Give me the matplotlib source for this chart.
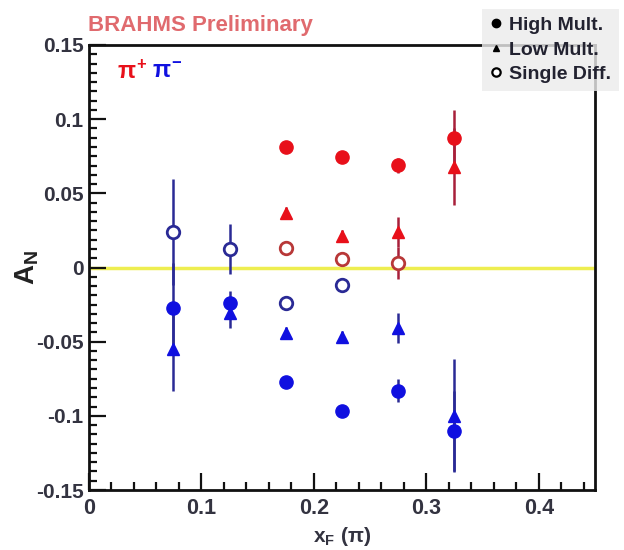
import matplotlib
matplotlib.use("Agg")
import matplotlib.pyplot as plt
from matplotlib.lines import Line2D
from matplotlib.ticker import MultipleLocator, FixedLocator

plt.rcParams['font.family'] = ['Liberation Sans', 'DejaVu Sans']
plt.rcParams['mathtext.fontset'] = 'custom'
plt.rcParams['mathtext.rm'] = 'Liberation Sans:bold'
plt.rcParams['mathtext.it'] = 'Liberation Sans:bold'
plt.rcParams['mathtext.bf'] = 'Liberation Sans:bold'

# ---- data ----
x_pos_red = [0.175, 0.225, 0.275, 0.325]
red_high = [0.081, 0.0745, 0.069, 0.087]
red_high_err = [0.004, 0.004, 0.005, 0.019]
red_low = [0.037, 0.021, 0.024, 0.068]
red_low_err = [0.004, 0.004, 0.010, 0.026]
x_red_single = [0.175, 0.225, 0.275]
red_single = [0.013, 0.006, 0.003]
red_single_err = [0.004, 0.004, 0.011]

x_pos_blue = [0.075, 0.125, 0.175, 0.225, 0.275, 0.325]
blue_high = [-0.027, -0.024, -0.077, -0.097, -0.083, -0.110]
blue_high_err = [0.030, 0.008, 0.004, 0.004, 0.008, 0.027]
blue_low = [-0.055, -0.031, -0.044, -0.047, -0.041, -0.100]
blue_low_err = [0.028, 0.010, 0.004, 0.004, 0.010, 0.038]
x_blue_single = [0.075, 0.125, 0.175, 0.225]
blue_single = [0.024, 0.0125, -0.024, -0.012]
blue_single_err = [0.036, 0.017, 0.004, 0.004]

x_ticks = [0, 0.1, 0.2, 0.3, 0.4]
x_tick_labels = ['0', '0.1', '0.2', '0.3', '0.4']
y_ticks = [-0.15, -0.1, -0.05, 0, 0.05, 0.1, 0.15]
y_tick_labels = ['-0.15', '-0.1', '-0.05', '0', '0.05', '0.1', '0.15']
legend_labels = ['High Mult.', 'Low Mult.', 'Single Diff.']

RED = '#e8101a'
RED_BAR = '#a8203a'
RED_OPEN = '#b83838'
BLUE = '#1010e0'
NAVY = '#2a2a95'

fig = plt.figure(figsize=(6.24, 5.5), dpi=100)
ax = fig.add_axes([89/624, 60/550, (595-89)/624, (490-45)/550])
ax.set_xlim(0, 0.45)
ax.set_ylim(-0.15, 0.15)

ax.axhline(0, color='#eeee50', lw=2.5, zorder=1)

def eb(x, y, e, fmt, col, bar, ms, mfc=None, mew=1.0):
    ax.errorbar(x, y, yerr=e, fmt=fmt, color=bar, ecolor=bar, elinewidth=1.8,
                capsize=0, ms=ms, mfc=mfc if mfc is not None else col,
                mec=col, mew=mew, zorder=3)

eb(x_pos_blue, blue_high, blue_high_err, 'o', BLUE, NAVY, 9.5)
eb(x_pos_blue, blue_low, blue_low_err, '^', BLUE, NAVY, 8)
eb(x_blue_single, blue_single, blue_single_err, 'o', NAVY, NAVY, 9, mfc='white', mew=2)
eb(x_pos_red, red_high, red_high_err, 'o', RED, RED_BAR, 9.5)
eb(x_pos_red, red_low, red_low_err, '^', RED, RED_BAR, 8)
eb(x_red_single, red_single, red_single_err, 'o', RED_OPEN, RED_BAR, 9, mfc='white', mew=2)

ax.xaxis.set_major_locator(FixedLocator(x_ticks))
ax.set_xticklabels(x_tick_labels)
ax.xaxis.set_minor_locator(MultipleLocator(0.02))
ax.yaxis.set_major_locator(FixedLocator(y_ticks))
ax.set_yticklabels(y_tick_labels)
ax.yaxis.set_minor_locator(MultipleLocator(0.05/8))

ax.tick_params(which='both', direction='in', top=False, right=False, width=1.6, color='#111111')
ax.tick_params(which='major', length=12)
ax.tick_params(which='minor', length=6)
ax.tick_params(axis='x', which='major', pad=6, labelsize=15.5, labelcolor='#333340')
ax.tick_params(axis='y', which='major', pad=4, labelsize=15, labelcolor='#333340')
for lab in ax.get_xticklabels() + ax.get_yticklabels():
    lab.set_fontweight('bold')
for sp in ax.spines.values():
    sp.set_linewidth(2)
    sp.set_color('#111111')

fig.text(342/624, 1 - 536/550, r'$\mathrm{x_F}$ (π)', ha='center', va='center',
         fontsize=15, fontweight='bold', color='#333340')
fig.text(27/624, 1 - 267/550, r'$\mathrm{A_N}$', ha='center', va='center',
         fontsize=20, fontweight='bold', rotation=90, color='#222222')

fig.text(88/624, 1 - 25/550, 'BRAHMS Preliminary', ha='left', va='center',
         fontsize=16, fontweight='bold', color='#e06a6e')
fig.text(117/624, 1 - 72/550, r'$\pi^{+}$', ha='left', va='center', fontsize=17, color=RED)
fig.text(152/624, 1 - 72/550, r'$\pi^{-}$', ha='left', va='center', fontsize=17, color=BLUE)

handles = [Line2D([], [], marker='o', ls='none', color='black', ms=6),
           Line2D([], [], marker='^', ls='none', color='black', ms=5),
           Line2D([], [], marker='o', ls='none', color='black', mfc='white', ms=6, mew=1.6)]
leg = fig.legend(handles, legend_labels, loc='upper right', bbox_to_anchor=(1.0, 0.993),
                 frameon=True, fancybox=False, handlelength=0.6, handletextpad=0.4,
                 labelspacing=0.35, borderpad=0.4, borderaxespad=0.25,
                 prop={'size': 14, 'weight': 'bold'})
leg.get_frame().set_facecolor('#ececec')
leg.get_frame().set_edgecolor('none')
for t in leg.get_texts():
    t.set_color('#222230')

fig.savefig('out.png', dpi=100)
